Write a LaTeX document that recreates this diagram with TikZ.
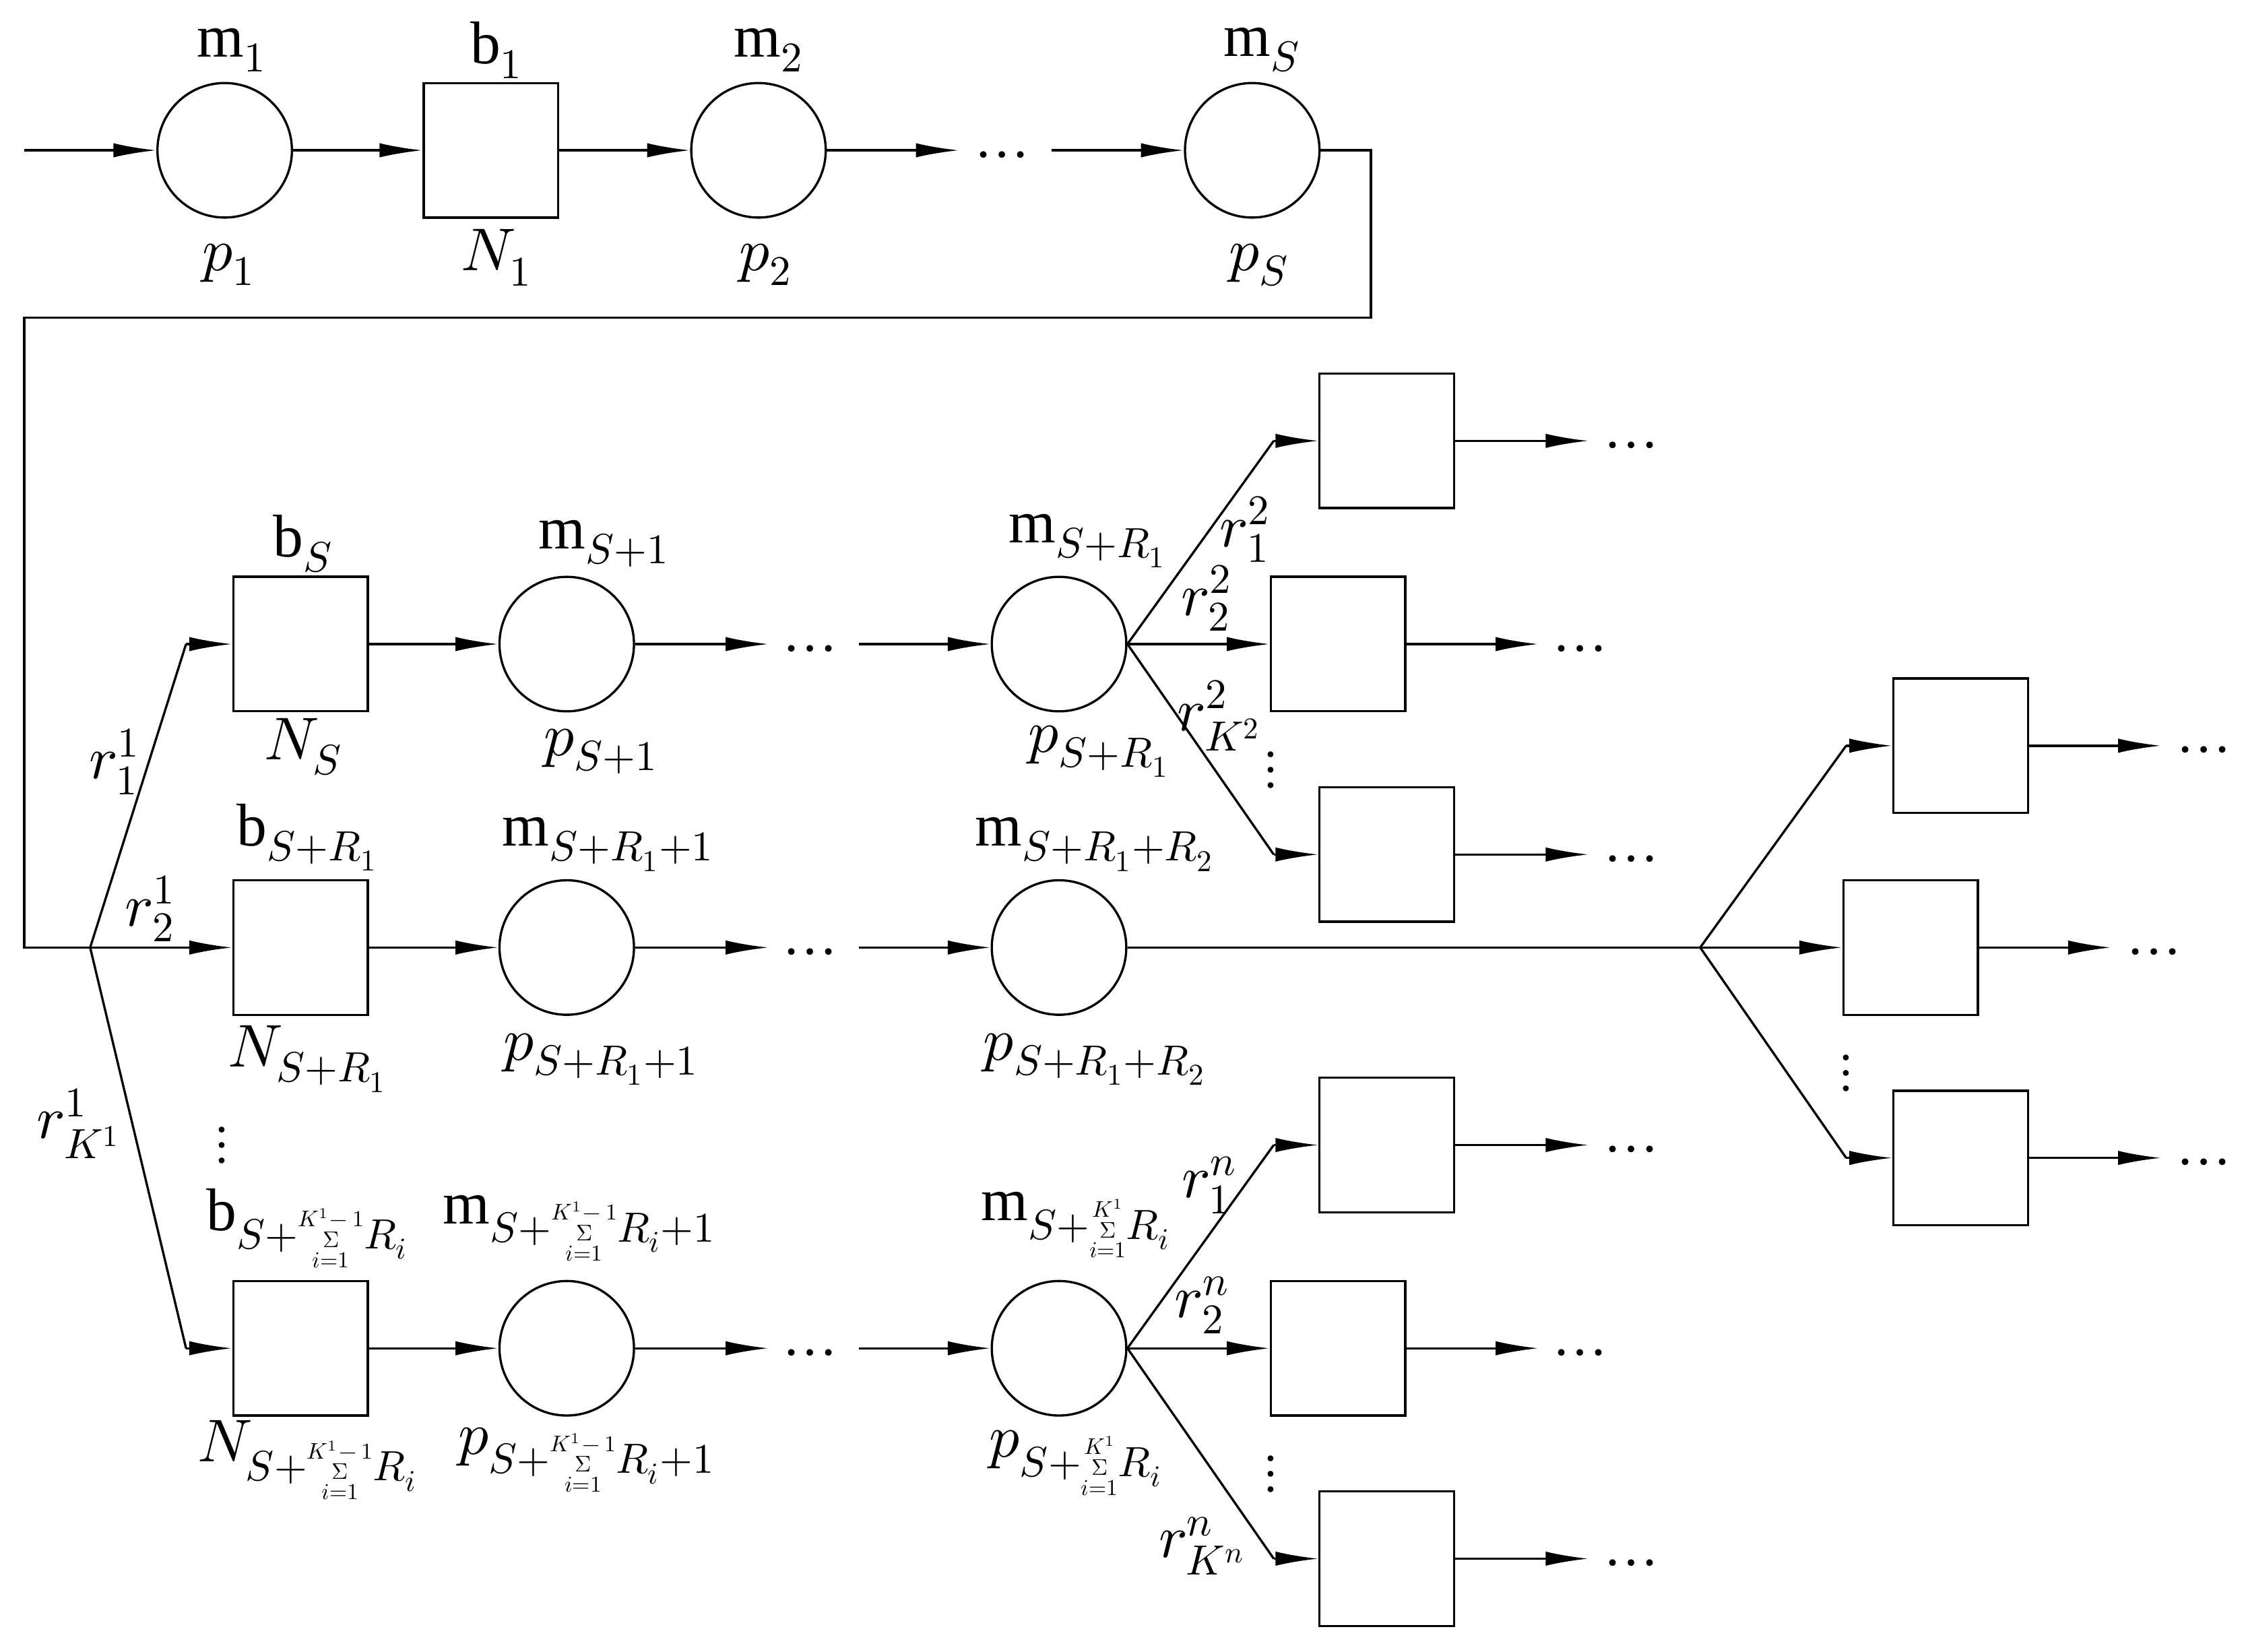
\documentclass[tikz,border=0pt]{standalone}
\usepackage{fontspec}
\setmainfont{Liberation Serif}
\usepackage{unicode-math}
\setmathfont{Latin Modern Math}
\usetikzlibrary{arrows.meta}
\newcommand\ssum[1]{\vcenter{\hbox{\fontsize{9}{8}\selectfont\shortstack{$#1$\\[-1pt]$\Sigma$\\[-1pt]$i{=}1$}}}}
\begin{document}
\begin{tikzpicture}[x=0.02cm,y=-0.02cm,line width=0.9pt,
  q/.style={draw,circle,minimum size=1.88cm,inner sep=0pt},
  bx/.style={draw,rectangle,minimum size=1.88cm,inner sep=0pt},
  ar/.style={-{Latex[length=0.6cm,width=0.2cm]}},
  lb/.style={font=\fontsize{24}{28}\selectfont,inner sep=0pt},
  dt/.style={font=\fontsize{22}{26}\selectfont,inner sep=0pt}]
\useasboundingbox (0,0) rectangle (1568,1154);
% top row
\coordinate (in) at (17,105);
\node[q] (m1) at (157,105) {};
\node[bx] (b1) at (343,105) {};
\node[q] (m2) at (530,105) {};
\coordinate (d1e) at (670,105);
\node[dt] at (700,108) {…};
\coordinate (d1s) at (735,105);
\node[q] (mS) at (875,105) {};
\draw[ar] (in) -- (m1);
\draw[ar] (m1) -- (b1);
\draw[ar] (b1) -- (m2);
\draw[ar] (m2) -- (d1e);
\draw[ar] (d1s) -- (mS);
\coordinate (br) at (63,662);
\draw (mS.east) -- (958,105) -- (958,222) -- (17,222) -- (17,662) -- (br);
\node[lb] at (162,35) {$\mathrm{m}_1$};
\node[lb] at (160,185) {$p_1$};
\node[lb] at (347,35) {$\mathrm{b}_1$};
\node[lb] at (347,180) {$N_1$};
\node[lb] at (537,35) {$\mathrm{m}_2$};
\node[lb] at (535,185) {$p_2$};
\node[lb] at (882,35) {$\mathrm{m}_S$};
\node[lb] at (880,185) {$p_S$};
% rows
\foreach \r/\y in {a/450,b/662,c/942}{
  \node[bx] (B\r) at (210,\y) {};
  \node[q] (C\r) at (396,\y) {};
  \coordinate (E\r) at (537,\y);
  \node[dt] at (566,\y+3) {…};
  \coordinate (S\r) at (600,\y);
  \node[q] (D\r) at (740,\y) {};
  \draw[ar] (B\r) -- (C\r);
  \draw[ar] (C\r) -- (E\r);
  \draw[ar] (S\r) -- (D\r);
}
\coordinate (ka) at (130,450);
\coordinate (kc) at (130,942);
\draw (br) -- (ka); \draw[ar] (ka) -- (Ba);
\draw[ar] (br) -- (Bb);
\draw (br) -- (kc); \draw[ar] (kc) -- (Bc);
\node[lb] at (80,532) {$r_1^{1}$};
\node[lb] at (105,635) {$r_2^{1}$};
\node[lb] at (55,785) {$r_{K^1}^{1}$};
\node[dt] at (155,800) {$\vdots$};
% fan-outs from Da and Dc
\foreach \r/\y in {a/450,c/942}{
  \coordinate (u\r) at (890,\y-142);
  \coordinate (l\r) at (890,\y+147);
  \node[bx] (U\r) at (969,\y-142) {};
  \node[bx] (M\r) at (935,\y) {};
  \node[bx] (L\r) at (969,\y+147) {};
  \draw (D\r.east) -- (u\r); \draw[ar] (u\r) -- (U\r);
  \draw[ar] (D\r) -- (M\r);
  \draw (D\r.east) -- (l\r); \draw[ar] (l\r) -- (L\r);
  \coordinate (ue\r) at (1110,\y-142);
  \coordinate (me\r) at (1075,\y);
  \coordinate (le\r) at (1110,\y+147);
  \draw[ar] (U\r) -- (ue\r); \draw[ar] (M\r) -- (me\r); \draw[ar] (L\r) -- (le\r);
  \node[dt] at (1140,\y-139) {…};
  \node[dt] at (1104,\y+3) {…};
  \node[dt] at (1140,\y+150) {…};
  \node[dt] at (888,\y+88) {$\vdots$};
}
% fan-out row b
\coordinate (f) at (1188,662);
\draw (Db) -- (f);
\coordinate (ub) at (1290,521);
\coordinate (lb) at (1290,809);
\node[bx] (Ub) at (1370,521) {};
\node[bx] (Mb) at (1335,662) {};
\node[bx] (Lb) at (1370,809) {};
\draw (f) -- (ub); \draw[ar] (ub) -- (Ub);
\draw[ar] (f) -- (Mb);
\draw (f) -- (lb); \draw[ar] (lb) -- (Lb);
\coordinate (ueb) at (1510,521);
\coordinate (meb) at (1475,662);
\coordinate (leb) at (1510,809);
\draw[ar] (Ub) -- (ueb); \draw[ar] (Mb) -- (meb); \draw[ar] (Lb) -- (leb);
\node[dt] at (1540,524) {…};
\node[dt] at (1505,665) {…};
\node[dt] at (1540,812) {…};
\node[dt] at (1290,750) {$\vdots$};
% r labels
\node[lb] at (870,370) {$r_1^{2}$};
\node[lb] at (843,418) {$r_2^{2}$};
\node[lb] at (852,500) {$r_{K^2}^{2}$};
\node[lb] at (845,828) {$r_1^{n}$};
\node[lb] at (840,912) {$r_2^{n}$};
\node[lb] at (840,1080) {$r_{K^n}^{n}$};
% row labels
\node[lb] at (212,380) {$\mathrm{b}_S$};
\node[lb] at (212,522) {$N_S$};
\node[lb] at (422,380) {$\mathrm{m}_{S+1}$};
\node[lb] at (420,525) {$p_{S+1}$};
\node[lb] at (760,378) {$\mathrm{m}_{S+R_1}$};
\node[lb] at (768,525) {$p_{S+R_1}$};
\node[lb] at (215,585) {$\mathrm{b}_{S+R_1}$};
\node[lb] at (215,740) {$N_{S+R_1}$};
\node[lb] at (425,590) {$\mathrm{m}_{S+R_1+1}$};
\node[lb] at (420,740) {$p_{S+R_1+1}$};
\node[lb] at (765,590) {$\mathrm{m}_{S+R_1+R_2}$};
\node[lb] at (765,740) {$p_{S+R_1+R_2}$};
\node[lb] at (215,858) {$\mathrm{b}_{S+\ssum{K^1\!-1}R_i}$};
\node[lb] at (215,1020) {$N_{S+\ssum{K^1\!-1}R_i}$};
\node[lb] at (405,858) {$\mathrm{m}_{S+\ssum{K^1\!-1}R_i+1}$};
\node[lb] at (410,1020) {$p_{S+\ssum{K^1\!-1}R_i+1}$};
\node[lb] at (752,856) {$\mathrm{m}_{S+\ssum{K^1}R_i}$};
\node[lb] at (752,1022) {$p_{S+\ssum{K^1}R_i}$};
\end{tikzpicture}
\end{document}
